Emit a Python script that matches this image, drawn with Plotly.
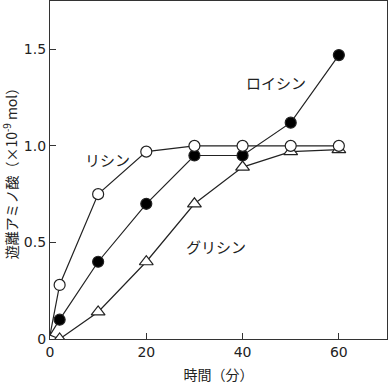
import plotly.graph_objects as go

time_lys = [0, 2, 10, 20, 30, 40, 50, 60]
lysine = [0.02, 0.28, 0.75, 0.97, 1.0, 1.0, 1.0, 1.0]
time_leu = [0, 2, 10, 20, 30, 40, 50, 60]
leucine = [0.02, 0.10, 0.40, 0.70, 0.95, 0.95, 1.12, 1.47]
time_gly = [0, 2, 10, 20, 30, 40, 50, 60]
glycine = [0.02, 0.0, 0.14, 0.40, 0.70, 0.89, 0.97, 0.98]

labels = ["リシン", "ロイシン", "グリシン"]
label_x = [12, 47, 34.5]
label_y = [0.93, 1.33, 0.48]

fig = go.Figure()

def add(xs, ys, symbol, fill):
    fig.add_trace(go.Scatter(x=xs, y=ys, mode="lines", line=dict(color="#222", width=1.2),
                             showlegend=False, hoverinfo="skip"))
    fig.add_trace(go.Scatter(x=xs[1:], y=ys[1:], mode="markers",
                             marker=dict(symbol=symbol, size=11 if symbol == "circle" else 12,
                                         color=fill, line=dict(color="#222", width=1.2)),
                             showlegend=False, hoverinfo="skip"))

add(time_gly, glycine, "triangle-up", "white")
add(time_leu, leucine, "circle", "black")
add(time_lys, lysine, "circle", "white")

for t, x, y in zip(labels, label_x, label_y):
    fig.add_annotation(x=x, y=y, text=t, showarrow=False,
                       font=dict(size=15, color="#222", family="Noto Sans CJK JP"))

fig.update_layout(
    width=391, height=392,
    margin=dict(l=50, r=4, t=1, b=53),
    plot_bgcolor="white", paper_bgcolor="white",
    font=dict(family="DejaVu Sans, Noto Sans CJK JP", size=14, color="#222"),
)
fig.update_xaxes(range=[0, 70], tickvals=[0, 20, 40, 60], ticktext=["0", "20", "40", "60"],
                 ticks="inside", ticklen=6, tickcolor="#333", showline=True, linecolor="#333",
                 linewidth=1.2, mirror=True, showgrid=False, zeroline=False,
                 title=dict(text="時間（分）", font=dict(family="Noto Sans CJK JP", size=14), standoff=11))
fig.update_yaxes(range=[0, 1.75], tickvals=[0, 0.5, 1.0, 1.5], ticktext=["0", "0.5", "1.0", "1.5"],
                 ticks="inside", ticklen=6, tickcolor="#333", showline=True, linecolor="#333",
                 linewidth=1.2, mirror=True, showgrid=False, zeroline=False,
                 title=dict(text="遊離アミノ酸（×10<sup>-9</sup> mol）",
                            font=dict(family="Noto Sans CJK JP", size=14), standoff=6))

fig.write_html("out.html")
